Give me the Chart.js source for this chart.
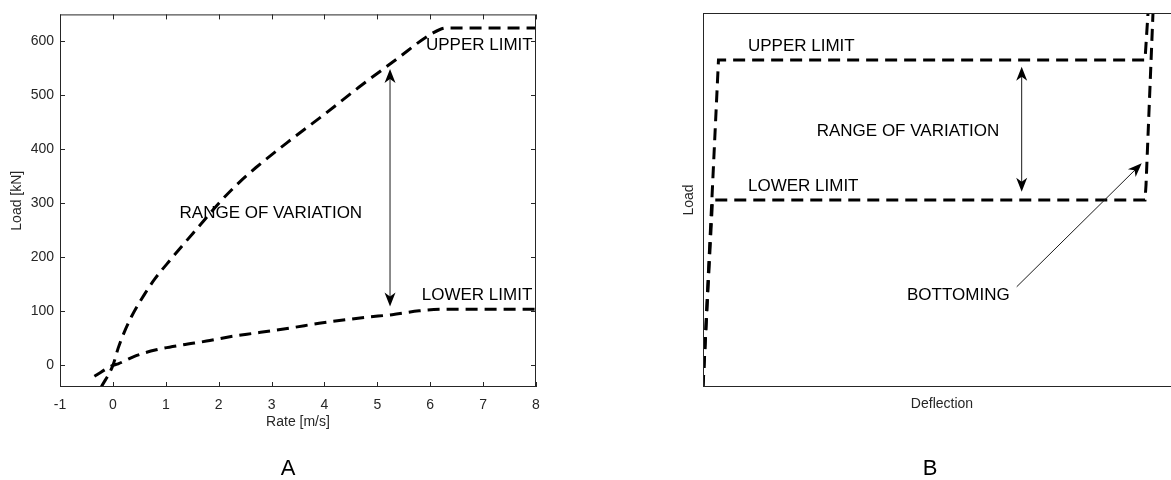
<!DOCTYPE html>
<html>
<head>
<meta charset="utf-8">
<script src="https://cdn.jsdelivr.net/npm/chart.js@4.4.1/dist/chart.umd.min.js"></script>
<style>
  html, body { margin: 0; padding: 0; background: #fff; overflow: hidden; width: 1171px; height: 480px; }
  canvas { position: absolute; top: 0; }
  #panelA { left: 0; }
  #panelB { left: 590px; }
</style>
</head>
<body>
<canvas id="panelA" width="590" height="480"></canvas>
<canvas id="panelB" width="600" height="480"></canvas>
<script>
// ---- Panel A: damper load against rate ----
const rateUpper = [-0.22, 0, 0.1, 0.2, 0.35, 0.6, 0.8, 1.1, 1.35, 1.65, 2, 2.4, 2.7, 3.3, 4, 4.65, 5.35, 6.04, 6.3, 8];
const loadUpper = [-40, 0, 32, 58, 90, 132, 161, 197, 226, 260, 300, 340, 366, 413, 465, 515, 566, 615, 625, 625];
const rateLower = [-0.35, 0, 0.1, 0.44, 0.82, 1.32, 1.77, 2.26, 2.7, 3.4, 3.9, 4.78, 5.28, 5.79, 6.3, 8];
const loadLower = [-20, 0, 3, 18, 29, 38, 45, 54, 60, 70, 78, 89, 94, 101, 104, 104];
const rateTicks = [-1, 0, 1, 2, 3, 4, 5, 6, 7, 8];
const loadTicks = [0, 100, 200, 300, 400, 500, 600];

// ---- Panel B: load against deflection (dimensionless) ----
const deflUpper = [0, 3.24, 92.47, 93.1];
const loadUpperB = [0, 87.43, 87.43, 100];
const deflLower = [0, 1.99, 92.47, 92.68, 94.14];
const loadLowerB = [0, 50, 50, 54, 100];

const FONT = '"Liberation Sans", Arial, Helvetica, sans-serif';
const INK = '#262626';
Chart.defaults.font.family = FONT;
Chart.defaults.color = INK;

const toPoints = (xs, ys) => xs.map((v, i) => ({ x: v, y: ys[i] }));

// Annotation layout per panel (in data units)
const notesA = {
  texts: [
    { text: 'UPPER LIMIT', x: 5.92, y: 593 },
    { text: 'LOWER LIMIT', x: 5.84, y: 130 },
    { text: 'RANGE OF VARIATION', x: 1.26, y: 281 }
  ],
  arrows: [ { x1: 5.24, y1: 109, x2: 5.24, y2: 549, both: true } ],
  letter: 'A', letterShift: -10,
  ticks: true
};
const notesB = {
  texts: [
    { text: 'UPPER LIMIT', x: 9.41, y: 91.0 },
    { text: 'LOWER LIMIT', x: 9.41, y: 53.6 },
    { text: 'RANGE OF VARIATION', x: 23.79, y: 68.3 },
    { text: 'BOTTOMING', x: 42.68, y: 24.6 }
  ],
  arrows: [
    { x1: 66.67, y1: 52.2, x2: 66.67, y2: 85.6, both: true },
    { x1: 65.63, y1: 26.8, x2: 91.78, y2: 59.8, both: false }
  ],
  letter: 'B', letterShift: -12,
  ticks: false
};

function head(ctx, tx, ty, ux, uy) {
  const L = 14, W = 5.5, N = 10;
  const px = -uy, py = ux;
  ctx.beginPath();
  ctx.moveTo(tx, ty);
  ctx.lineTo(tx - L * ux + W * px, ty - L * uy + W * py);
  ctx.lineTo(tx - N * ux, ty - N * uy);
  ctx.lineTo(tx - L * ux - W * px, ty - L * uy - W * py);
  ctx.closePath();
  ctx.fill();
}

// Draws the axes box, inward ticks, text notes, arrows and panel letter
const overlay = {
  id: 'overlay',
  afterDraw(chart, args, o) {
    const { ctx, chartArea: a, scales: { x, y } } = chart;
    ctx.save();
    ctx.strokeStyle = INK;
    ctx.lineWidth = 1;
    ctx.setLineDash([]);
    ctx.strokeRect(a.left + 0.5, a.top + 0.5, a.right - a.left - 1, a.bottom - a.top - 1);
    if (o.ticks) {
      const T = 5;
      ctx.beginPath();
      x.ticks.forEach(t => {
        const px = Math.round(x.getPixelForValue(t.value)) + 0.5;
        ctx.moveTo(px, a.bottom); ctx.lineTo(px, a.bottom - T);
        ctx.moveTo(px, a.top); ctx.lineTo(px, a.top + T);
      });
      y.ticks.forEach(t => {
        const py = Math.round(y.getPixelForValue(t.value)) + 0.5;
        ctx.moveTo(a.left, py); ctx.lineTo(a.left + T, py);
        ctx.moveTo(a.right, py); ctx.lineTo(a.right - T, py);
      });
      ctx.stroke();
    }
    ctx.fillStyle = '#000';
    ctx.font = '17px ' + FONT;
    ctx.textAlign = 'left';
    ctx.textBaseline = 'middle';
    o.texts.forEach(t => ctx.fillText(t.text, x.getPixelForValue(t.x), y.getPixelForValue(t.y)));

    ctx.strokeStyle = '#1a1a1a';
    ctx.fillStyle = '#000';
    o.arrows.forEach(r => {
      const x1 = x.getPixelForValue(r.x1), y1 = y.getPixelForValue(r.y1);
      const x2 = x.getPixelForValue(r.x2), y2 = y.getPixelForValue(r.y2);
      const len = Math.hypot(x2 - x1, y2 - y1);
      const ux = (x2 - x1) / len, uy = (y2 - y1) / len;
      ctx.beginPath();
      ctx.moveTo(r.both ? x1 + ux * 9 : x1, r.both ? y1 + uy * 9 : y1);
      ctx.lineTo(x2 - ux * 9, y2 - uy * 9);
      ctx.stroke();
      head(ctx, x2, y2, ux, uy);
      if (r.both) head(ctx, x1, y1, -ux, -uy);
    });

    ctx.font = '22px ' + FONT;
    ctx.textAlign = 'center';
    ctx.fillStyle = '#000';
    ctx.fillText(o.letter, (a.left + a.right) / 2 + o.letterShift, 469);
    ctx.restore();
  }
};

const dashed = (pts, smooth) => ({
  data: pts,
  showLine: true,
  borderColor: '#000',
  borderWidth: 3,
  borderDash: [12, 7],
  pointRadius: 0,
  fill: false,
  cubicInterpolationMode: smooth ? 'monotone' : 'default',
  tension: 0
});

const fixWidth = w => s => { s.width = w; };
const fixHeight = h => s => { s.height = h; };

new Chart(document.getElementById('panelA'), {
  type: 'scatter',
  data: {
    datasets: [
      dashed(toPoints(rateUpper, loadUpper), true),
      dashed(toPoints(rateLower, loadLower), true)
    ]
  },
  plugins: [overlay],
  options: {
    responsive: false,
    animation: false,
    events: [],
    layout: { padding: { left: 0, top: 13, right: 54, bottom: 0 } },
    plugins: { legend: { display: false }, tooltip: { enabled: false }, overlay: notesA },
    scales: {
      x: {
        type: 'linear', min: -1, max: 8,
        afterBuildTicks: s => { s.ticks = rateTicks.map(v => ({ value: v })); },
        afterFit: fixHeight(93),
        grid: { display: false, drawTicks: false },
        border: { display: false },
        ticks: { color: INK, font: { size: 14 }, padding: 10, maxRotation: 0 },
        title: { display: true, text: 'Rate [m/s]', color: INK, font: { size: 14 }, padding: { top: 0, bottom: 49 } }
      },
      y: {
        type: 'linear', min: -40, max: 650,
        afterBuildTicks: s => { s.ticks = loadTicks.map(v => ({ value: v })); },
        afterFit: fixWidth(60),
        grid: { display: false, drawTicks: false },
        border: { display: false },
        ticks: { color: INK, font: { size: 14 }, padding: 6 },
        title: { display: true, text: 'Load [kN]', color: INK, font: { size: 14 }, padding: { top: 8.6, bottom: 0 } }
      }
    }
  }
});

new Chart(document.getElementById('panelB'), {
  type: 'scatter',
  data: {
    datasets: [
      dashed(toPoints(deflUpper, loadUpperB), false),
      dashed(toPoints(deflLower, loadLowerB), false)
    ]
  },
  plugins: [overlay],
  options: {
    responsive: false,
    animation: false,
    events: [],
    layout: { padding: { left: 0, top: 13, right: 9, bottom: 0 } },
    plugins: { legend: { display: false }, tooltip: { enabled: false }, overlay: notesB },
    scales: {
      x: {
        type: 'linear', min: 0, max: 100,
        afterFit: fixHeight(93),
        grid: { display: false, drawTicks: false },
        border: { display: false },
        ticks: { display: false },
        title: { display: true, text: 'Deflection', color: INK, font: { size: 14 }, padding: { top: 0, bottom: 67.1 } }
      },
      y: {
        type: 'linear', min: 0, max: 100,
        afterFit: fixWidth(113),
        grid: { display: false, drawTicks: false },
        border: { display: false },
        ticks: { display: false },
        title: { display: true, text: 'Load', color: INK, font: { size: 14 }, padding: { top: 91, bottom: 0 } }
      }
    }
  }
});
</script>
</body>
</html>
